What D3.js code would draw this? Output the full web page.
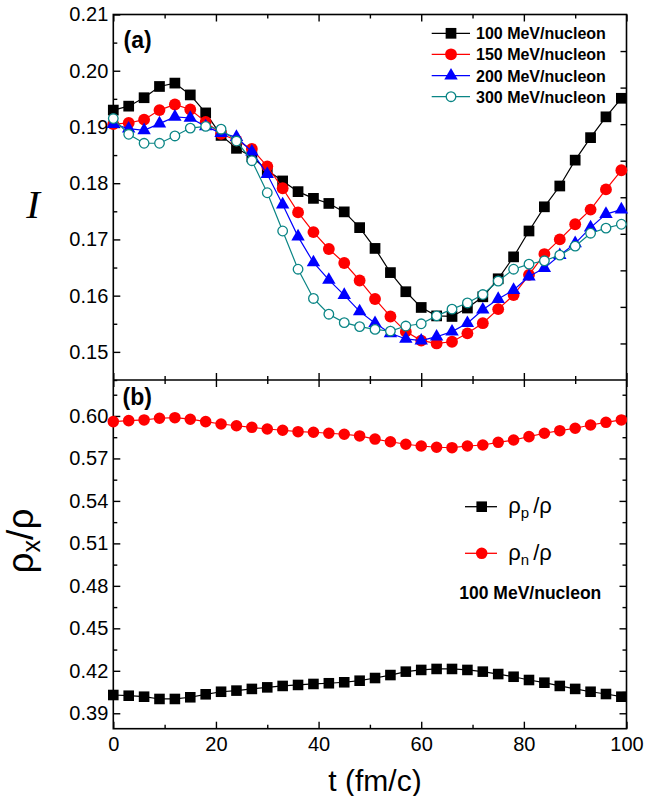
<!DOCTYPE html>
<html>
<head>
<meta charset="utf-8">
<script src="https://cdn.jsdelivr.net/npm/d3@7"></script>
<style>
  body { margin: 0; background: #fff; }
  text { font-family: "Liberation Sans", Arial, sans-serif; fill: #000; }
</style>
</head>
<body>
<svg id="chart" width="651" height="796"></svg>
<script>
// time steps (fm/c)
const time = [0,3,6,9,12,15,18,21,24,27,30,33,36,39,42,45,48,51,54,57,60,63,66,69,72,75,78,81,84,87,90,93,96,99];

// panel (a): I for each beam energy
const I100 = [0.1930,0.1937,0.1952,0.1972,0.1978,0.1957,0.1925,0.1885,0.1862,0.1847,0.1823,0.1804,0.1785,0.1773,0.1764,0.1749,0.1721,0.1684,0.1641,0.1607,0.1579,0.1564,0.1563,0.1578,0.1598,0.1630,0.1669,0.1715,0.1758,0.1795,0.1841,0.1881,0.1918,0.1951];
const I150 = [0.1905,0.1907,0.1913,0.1930,0.1940,0.1931,0.1909,0.1888,0.1876,0.1861,0.1830,0.1791,0.1748,0.1713,0.1683,0.1658,0.1627,0.1594,0.1563,0.1536,0.1520,0.1515,0.1518,0.1533,0.1551,0.1576,0.1601,0.1637,0.1674,0.1700,0.1727,0.1753,0.1789,0.1823];
const I200 = [0.1905,0.1897,0.1894,0.1906,0.1918,0.1916,0.1901,0.1889,0.1882,0.1856,0.1816,0.1762,0.1705,0.1659,0.1628,0.1601,0.1572,0.1551,0.1533,0.1523,0.1520,0.1527,0.1536,0.1551,0.1575,0.1594,0.1610,0.1634,0.1649,0.1672,0.1693,0.1721,0.1745,0.1753];
const I300 = [0.1915,0.1887,0.1871,0.1871,0.1884,0.1898,0.1901,0.1896,0.1875,0.1840,0.1783,0.1715,0.1647,0.1595,0.1567,0.1552,0.1545,0.1540,0.1537,0.1546,0.1550,0.1564,0.1576,0.1587,0.1602,0.1626,0.1647,0.1656,0.1662,0.1672,0.1688,0.1711,0.1720,0.1727];
const energyLabels = ["100 MeV/nucleon","150 MeV/nucleon","200 MeV/nucleon","300 MeV/nucleon"];

// panel (b): proton and neutron density fractions at 100 MeV/nucleon
const rhoP = [0.4029,0.4024,0.4017,0.4001,0.4001,0.4013,0.4034,0.4052,0.4060,0.4072,0.4083,0.4093,0.4100,0.4107,0.4112,0.4119,0.4130,0.4149,0.4170,0.4194,0.4206,0.4213,0.4213,0.4206,0.4194,0.4177,0.4158,0.4135,0.4116,0.4093,0.4072,0.4052,0.4036,0.4017];
const rhoN = [0.5960,0.5967,0.5972,0.5984,0.5988,0.5977,0.5960,0.5943,0.5931,0.5920,0.5908,0.5899,0.5889,0.5885,0.5878,0.5871,0.5859,0.5837,0.5818,0.5800,0.5788,0.5779,0.5776,0.5788,0.5795,0.5814,0.5830,0.5854,0.5878,0.5896,0.5913,0.5936,0.5955,0.5972];

// tick values
const xMajor = [0,20,40,60,80,100];
const xMinor = [10,30,50,70,90];
const yaMajor = [0.15,0.16,0.17,0.18,0.19,0.20,0.21];
const yaMinor = [0.145,0.155,0.165,0.175,0.185,0.195,0.205];
const ybMajor = [0.39,0.42,0.45,0.48,0.51,0.54,0.57,0.60];
const ybMinor = [0.405,0.435,0.465,0.495,0.525,0.555,0.585,0.615];

const svg = d3.select("#chart");

const L = 113.3, R = 626.5, T = 14.5, MID = 380, B = 728.7;
const x = d3.scaleLinear().domain([0,100]).range([L,R]);
const ya = d3.scaleLinear().domain([0.145,0.21]).range([MID,T]);
const yb = d3.scaleLinear().domain([0.3791,0.6254]).range([B,MID]);
const yaRight = d3.scaleLinear().domain([0,10]).range([MID,T]);

const fmt = d3.format(".2f");

function axisG(axis, tx, ty) {
  const g = svg.append("g").attr("transform", `translate(${tx},${ty})`).call(axis);
  g.select(".domain").remove();
  g.selectAll(".tick line").attr("stroke", "#000").attr("stroke-width", 1.4);
  g.selectAll(".tick text").style("font-size", "20px").attr("fill", "#000");
  return g;
}

// panel (a) axes
axisG(d3.axisLeft(ya).tickValues(yaMajor).tickFormat(fmt).tickSize(-7).tickPadding(5), L, 0);
axisG(d3.axisLeft(ya).tickValues(yaMinor).tickFormat("").tickSize(-4), L, 0);
axisG(d3.axisRight(yaRight).tickValues(d3.range(1,10)).tickFormat("").tickSize(-6), R, 0);
axisG(d3.axisTop(x).tickValues(xMajor).tickFormat("").tickSize(-7), 0, T);
axisG(d3.axisTop(x).tickValues(xMinor).tickFormat("").tickSize(-4), 0, T);
axisG(d3.axisBottom(x).tickValues(xMajor).tickFormat("").tickSize(-7), 0, MID);
axisG(d3.axisBottom(x).tickValues(xMinor).tickFormat("").tickSize(-4), 0, MID);

// panel (b) axes
axisG(d3.axisLeft(yb).tickValues(ybMajor).tickFormat(fmt).tickSize(-7).tickPadding(5), L, 0);
axisG(d3.axisLeft(yb).tickValues(ybMinor).tickFormat("").tickSize(-4), L, 0);
axisG(d3.axisRight(yb).tickValues(ybMajor).tickFormat("").tickSize(-7), R, 0);
axisG(d3.axisRight(yb).tickValues(ybMinor).tickFormat("").tickSize(-4), R, 0);
axisG(d3.axisTop(x).tickValues(xMajor).tickFormat("").tickSize(-7), 0, MID);
axisG(d3.axisTop(x).tickValues(xMinor).tickFormat("").tickSize(-4), 0, MID);
axisG(d3.axisBottom(x).tickValues(xMajor).tickSize(-7).tickPadding(8), 0, B);
axisG(d3.axisBottom(x).tickValues(xMinor).tickFormat("").tickSize(-4), 0, B);

// frames
svg.append("rect").attr("x", L).attr("y", T).attr("width", R - L).attr("height", B - T)
  .attr("fill", "none").attr("stroke", "#000").attr("stroke-width", 1.6);
svg.append("line").attr("x1", L).attr("x2", R).attr("y1", MID).attr("y2", MID)
  .attr("stroke", "#000").attr("stroke-width", 1.6);

// series styles
const seriesA = [
  { vals: I100, color: "#000000", sym: d3.symbolSquare, size: 115, fill: "#000000", label: energyLabels[0] },
  { vals: I150, color: "#ff0000", sym: d3.symbolCircle, size: 110, fill: "#ff0000", label: energyLabels[1] },
  { vals: I200, color: "#0000ff", sym: d3.symbolTriangle, size: 78, fill: "#0000ff", label: energyLabels[2] },
  { vals: I300, color: "#0a8585", sym: d3.symbolCircle, size: 72, fill: "#ffffff", label: energyLabels[3] }
];

function drawSeries(vals, yScale, s) {
  const pts = time.map((t, i) => [t, vals[i]]);
  svg.append("path").datum(pts)
    .attr("d", d3.line().x(d => x(d[0])).y(d => yScale(d[1])))
    .attr("fill", "none").attr("stroke", s.color).attr("stroke-width", 1.2);
  svg.append("g").selectAll("path").data(pts).join("path")
    .attr("transform", d => `translate(${x(d[0])},${yScale(d[1])})`)
    .attr("d", d3.symbol().type(s.sym).size(s.size))
    .attr("fill", s.fill)
    .attr("stroke", s.fill === "#ffffff" ? s.color : "none")
    .attr("stroke-width", 1.3);
}

seriesA.forEach(s => drawSeries(s.vals, ya, s));

const seriesB = [
  { vals: rhoP, color: "#000000", sym: d3.symbolSquare, size: 112, fill: "#000000" },
  { vals: rhoN, color: "#ff0000", sym: d3.symbolCircle, size: 105, fill: "#ff0000" }
];
seriesB.forEach(s => drawSeries(s.vals, yb, s));

// legend (a)
const legA = [33.3, 54.3, 75.7, 96.7];
seriesA.forEach((s, i) => {
  const yy = legA[i];
  svg.append("line").attr("x1", 431.7).attr("x2", 470).attr("y1", yy).attr("y2", yy)
    .attr("stroke", s.color).attr("stroke-width", 1.3);
  svg.append("path").attr("transform", `translate(451,${yy})`)
    .attr("d", d3.symbol().type(s.sym).size(s.size))
    .attr("fill", s.fill).attr("stroke", s.fill === "#ffffff" ? s.color : "none").attr("stroke-width", 1.3);
  svg.append("text").attr("x", 476).attr("y", yy + 5.8)
    .style("font-size", "16px").style("font-weight", "bold").text(s.label);
});

// legend (b)
const legB = [506.7, 553.3];
const legBSub = ["p", "n"];
seriesB.forEach((s, i) => {
  const yy = legB[i];
  svg.append("line").attr("x1", 465).attr("x2", 497).attr("y1", yy).attr("y2", yy)
    .attr("stroke", s.color).attr("stroke-width", 1.3);
  svg.append("path").attr("transform", `translate(481.7,${yy})`)
    .attr("d", d3.symbol().type(s.sym).size(s.size)).attr("fill", s.fill);
  const t = svg.append("text").attr("x", 508.3).attr("y", yy + 6.6).style("font-size", "22px");
  t.append("tspan").text("ρ");
  t.append("tspan").attr("dy", 5).style("font-size", "15px").text(legBSub[i]);
  t.append("tspan").attr("dy", -5).attr("dx", 4).text("/ρ");
});
svg.append("text").attr("x", 459.3).attr("y", 599.3)
  .style("font-size", "17.5px").style("font-weight", "bold").text("100 MeV/nucleon");

// panel tags
svg.append("text").attr("x", 123.5).attr("y", 47.5).style("font-size", "23px").style("font-weight", "bold").text("(a)");
svg.append("text").attr("x", 122.5).attr("y", 405).style("font-size", "23px").style("font-weight", "bold").text("(b)");

// axis titles
svg.append("text").attr("x", 33).attr("y", 218).attr("text-anchor", "middle")
  .style("font-family", "'Liberation Serif', 'Times New Roman', serif")
  .style("font-style", "italic").style("font-size", "41px").text("I");

const yt = svg.append("text").attr("transform", "translate(33,541) rotate(-90)")
  .attr("text-anchor", "middle").style("font-size", "37px");
yt.append("tspan").text("ρ");
yt.append("tspan").attr("dy", 7).style("font-size", "25px").text("x");
yt.append("tspan").attr("dy", -7).text("/ρ");

svg.append("text").attr("x", 375).attr("y", 791).attr("text-anchor", "middle")
  .style("font-size", "30px").text("t (fm/c)");
</script>
</body>
</html>
